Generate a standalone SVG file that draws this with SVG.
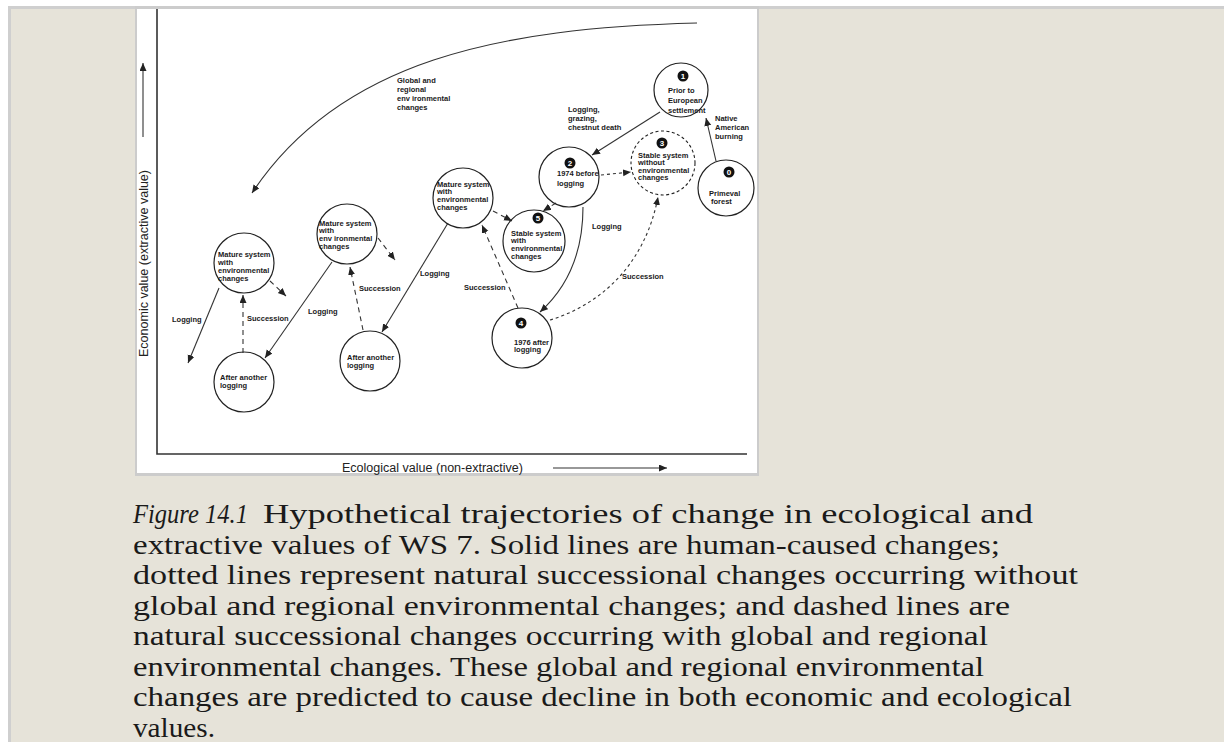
<svg xmlns="http://www.w3.org/2000/svg" width="1224" height="742" viewBox="0 0 1224 742">
<style>
.node{fill:none;stroke:#222;stroke-width:1.2}
.dnode{fill:none;stroke:#222;stroke-width:1.1;stroke-dasharray:3 2.5}
.t{font-family:"Liberation Sans",Arial,sans-serif;font-size:7.5px;font-weight:bold;fill:#1a1a1a}
.num{font-family:"Liberation Sans",Arial,sans-serif;font-size:8px;font-weight:bold;fill:#fff;text-anchor:middle}
.badge{fill:#111}
.solid{fill:none;stroke:#333;stroke-width:1.1;marker-end:url(#ah)}
.dash{fill:none;stroke:#333;stroke-width:1.1;stroke-dasharray:5 4;marker-end:url(#ah)}
.dot{fill:none;stroke:#333;stroke-width:1.1;stroke-dasharray:3 3;marker-end:url(#ah)}
.axis{fill:none;stroke:#333;stroke-width:1.6}
.ax{font-family:"Liberation Sans",Arial,sans-serif;font-size:12.5px;fill:#222}
.cap{font-family:"Liberation Serif","Times New Roman",serif;font-size:28px;fill:#1a1a1a}
</style>
<defs>
<marker id="ah" markerUnits="userSpaceOnUse" markerWidth="10" markerHeight="8" refX="8" refY="3.5" orient="auto">
<path d="M0,0 L8,3.5 L0,7 Z" fill="#222"/>
</marker>
</defs>
<rect x="0" y="0" width="1224" height="742" fill="#ffffff"/>
<rect x="8" y="6" width="1216" height="736" fill="#cfcfcf"/>
<rect x="11" y="9" width="1213" height="733" fill="#e6e3d9"/>
<rect x="135" y="6" width="624" height="470" fill="#cccccc"/>
<rect x="137" y="9" width="620" height="464" fill="#ffffff"/>

<g id="axes">
<path class="axis" d="M157,9 L157,454 L747,454"/>
<path class="solid" d="M143,137 L143,63" stroke-width="1.2"/>
<path class="solid" d="M553,468 L667,468" stroke-width="1.2"/>
<text class="ax" transform="translate(148,357) rotate(-90)" textLength="187" lengthAdjust="spacingAndGlyphs">Economic value (extractive value)</text>
<text class="ax" x="342" y="472" textLength="181" lengthAdjust="spacingAndGlyphs">Ecological value (non-extractive)</text>
</g>

<g id="connectors">
<path class="solid" d="M697,23 C500,28 340,60 252,193"/>
<path class="solid" d="M716,161 L706,118"/>
<path class="solid" d="M660,112 L592,155"/>
<path class="dot" d="M601,175 L631,172"/>
<path class="dash" d="M556,203 L543,211"/>
<path class="dash" d="M493,211 L512,221"/>
<path class="solid" d="M583,207 C583,250 570,285 540,312"/>
<path class="dot" d="M550,320 C600,305 645,265 658,197"/>
<path class="dash" d="M518,308 L482,225"/>
<path class="solid" d="M448,223 L382,332"/>
<path class="dash" d="M363,330 L350,267"/>
<path class="dash" d="M378,238 L395,260"/>
<path class="solid" d="M332,262 L265,358"/>
<path class="dash" d="M243,353 L243,295"/>
<path class="dash" d="M270,281 L286,296"/>
<path class="solid" d="M219,288 L188,363"/>
</g>

<g id="edge-labels">
<text class="t" x="397" y="83">Global and</text>
<text class="t" x="397" y="92">regional</text>
<text class="t" x="397" y="101">env ironmental</text>
<text class="t" x="397" y="110">changes</text>
<text class="t" x="568" y="112">Logging,</text>
<text class="t" x="568" y="121">grazing,</text>
<text class="t" x="568" y="130">chestnut death</text>
<text class="t" x="715" y="121">Native</text>
<text class="t" x="715" y="130">American</text>
<text class="t" x="715" y="139">burning</text>
<text class="t" x="592" y="229">Logging</text>
<text class="t" x="622" y="279">Succession</text>
<text class="t" x="464" y="290">Succession</text>
<text class="t" x="420" y="276">Logging</text>
<text class="t" x="359" y="291">Succession</text>
<text class="t" x="308" y="314">Logging</text>
<text class="t" x="247" y="321">Succession</text>
<text class="t" x="172" y="322">Logging</text>
</g>

<g id="node1">
<circle class="node" cx="681" cy="90" r="27"/>
<circle class="badge" cx="683" cy="76" r="5.5"/><text class="num" x="683" y="79">1</text>
<text class="t" x="668" y="93">Prior to</text>
<text class="t" x="668" y="103">European</text>
<text class="t" x="668" y="113">settlement</text>
</g>
<g id="node0">
<circle class="node" cx="726" cy="188" r="28"/>
<circle class="badge" cx="729" cy="172" r="5.5"/><text class="num" x="729" y="175">0</text>
<text class="t" x="709" y="196">Primeval</text>
<text class="t" x="711" y="204">forest</text>
</g>
<g id="node2">
<circle class="node" cx="569" cy="177" r="30"/>
<circle class="badge" cx="570" cy="163" r="5.5"/><text class="num" x="570" y="166">2</text>
<text class="t" x="557" y="176">1974 before</text>
<text class="t" x="557" y="186">logging</text>
</g>
<g id="node3">
<circle class="dnode" cx="663" cy="163" r="32"/>
<circle class="badge" cx="662" cy="143" r="5.5"/><text class="num" x="662" y="146">3</text>
<text class="t" x="638" y="158">Stable system</text>
<text class="t" x="638" y="165">without</text>
<text class="t" x="638" y="172.5">environmental</text>
<text class="t" x="638" y="180">changes</text>
</g>
<g id="node5">
<circle class="node" cx="534" cy="241" r="31"/>
<circle class="badge" cx="538" cy="218" r="5.5"/><text class="num" x="538" y="221">5</text>
<text class="t" x="511" y="235.5">Stable system</text>
<text class="t" x="511" y="242.5">with</text>
<text class="t" x="511" y="250.5">environmental</text>
<text class="t" x="511" y="258.5">changes</text>
</g>
<g id="node4">
<circle class="node" cx="522" cy="338" r="30"/>
<circle class="badge" cx="521" cy="323" r="5.5"/><text class="num" x="521" y="326">4</text>
<text class="t" x="514" y="344.5">1976 after</text>
<text class="t" x="514" y="352">logging</text>
</g>
<g id="mature3">
<circle class="node" cx="463" cy="198" r="30"/>
<text class="t" x="437" y="187">Mature system</text>
<text class="t" x="437" y="194">with</text>
<text class="t" x="437" y="202">environmental</text>
<text class="t" x="437" y="210">changes</text>
</g>
<g id="mature2">
<circle class="node" cx="347" cy="234" r="30"/>
<text class="t" x="319" y="226">Mature system</text>
<text class="t" x="319" y="233">with</text>
<text class="t" x="319" y="241">env ironmental</text>
<text class="t" x="319" y="249">changes</text>
</g>
<g id="after2">
<circle class="node" cx="370" cy="361" r="30"/>
<text class="t" x="347" y="360">After another</text>
<text class="t" x="347" y="368">logging</text>
</g>
<g id="mature1">
<circle class="node" cx="244" cy="263" r="30"/>
<text class="t" x="218" y="256.5">Mature system</text>
<text class="t" x="218" y="264.5">with</text>
<text class="t" x="218" y="272.5">environmental</text>
<text class="t" x="218" y="280.5">changes</text>
</g>
<g id="after1">
<circle class="node" cx="244" cy="382" r="30"/>
<text class="t" x="220" y="380">After another</text>
<text class="t" x="220" y="388">logging</text>
</g>

<g id="caption">
<text class="cap" x="133" y="523" font-style="italic" textLength="115" lengthAdjust="spacingAndGlyphs">Figure 14.1</text>
<text class="cap" x="263" y="523" textLength="770" lengthAdjust="spacingAndGlyphs">Hypothetical trajectories of change in ecological and</text>
<text class="cap" x="133" y="553.5" textLength="867" lengthAdjust="spacingAndGlyphs">extractive values of WS 7. Solid lines are human-caused changes;</text>
<text class="cap" x="133" y="584" textLength="945" lengthAdjust="spacingAndGlyphs">dotted lines represent natural successional changes occurring without</text>
<text class="cap" x="133" y="614.5" textLength="877" lengthAdjust="spacingAndGlyphs">global and regional environmental changes; and dashed lines are</text>
<text class="cap" x="133" y="645" textLength="855" lengthAdjust="spacingAndGlyphs">natural successional changes occurring with global and regional</text>
<text class="cap" x="133" y="675.5" textLength="851" lengthAdjust="spacingAndGlyphs">environmental changes. These global and regional environmental</text>
<text class="cap" x="133" y="706" textLength="939" lengthAdjust="spacingAndGlyphs">changes are predicted to cause decline in both economic and ecological</text>
<text class="cap" x="133" y="737" textLength="82" lengthAdjust="spacingAndGlyphs">values.</text>
</g>
</svg>
